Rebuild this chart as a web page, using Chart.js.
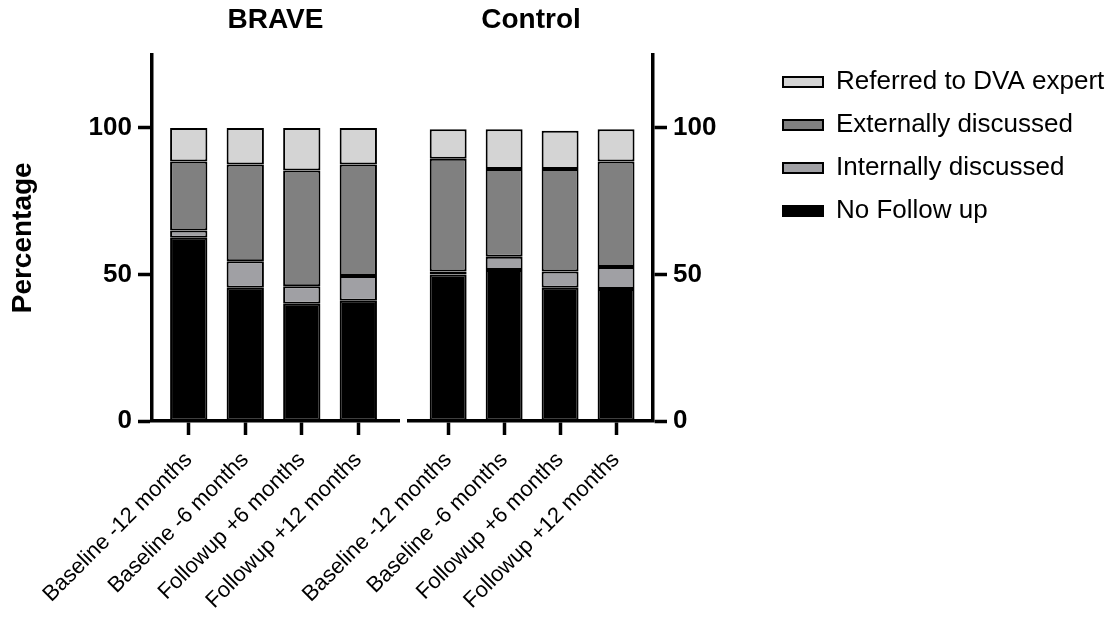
<!DOCTYPE html>
<html lang="en">
<head>
<meta charset="utf-8">
<title>BRAVE vs Control</title>
<script src="https://cdn.jsdelivr.net/npm/chart.js@4.4.1/dist/chart.umd.min.js"></script>
<style>
    html, body { margin: 0; padding: 0; background: #fff; }
    #contenedor { position: relative; width: 1117px; height: 619px; overflow: hidden; }
    #contenedor canvas { position: absolute; left: 0; top: 0; }
    #contenedor #graficoLeyenda { left: 766px; top: 52px; }
</style>
</head>
<body>
<div id="contenedor">
    <canvas id="graficoBrave" width="1117" height="619"></canvas>
    <canvas id="graficoControl" width="1117" height="619"></canvas>
    <canvas id="graficoLeyenda" width="351" height="500"></canvas>
</div>
<script>
// Datos (porcentajes)
const categorias = ['Baseline -12 months', 'Baseline -6 months', 'Followup +6 months', 'Followup +12 months'];
const series = ['No Follow up', 'Internally discussed', 'Externally discussed', 'Referred to DVA expert'];
const colores = ['#000000', '#a0a0a4', '#808080', '#d4d4d4'];
const ticksY = [0, 50, 100];

const braveSinSeguimiento = [62.5, 45.5, 40, 41];
const braveInterno = [2.5, 9, 6, 8.5];
const braveExterno = [23.5, 33, 39.5, 38];
const braveDerivado = [11.5, 12.5, 14.5, 12.5];

const controlSinSeguimiento = [50, 51.5, 45.5, 45];
const controlInterno = [1, 4.5, 5.5, 7.5];
const controlExterno = [38.5, 30, 35, 36];
const controlDerivado = [10, 13.5, 13, 11];

const fuente = 'Arial, "Liberation Sans", sans-serif';

// Función para armar los datasets apilados
function crearDatasets(valores) {
    return series.map((nombre, s) => ({
        label: nombre,
        data: valores ? valores[s].map((v, i) => ({ x: i, y: v })) : [],
        backgroundColor: colores[s],
        borderColor: '#000',
        borderWidth: 2,
        borderSkipped: false,
        categoryPercentage: 1,
        barPercentage: 0.66
    }));
}

// Función para crear cada panel
function crearGrafico(idCanvas, titulo, valores, config) {
    const ctx = document.getElementById(idCanvas).getContext('2d');

    return new Chart(ctx, {
        type: 'bar',
        data: { datasets: crearDatasets(valores) },
        options: {
            responsive: false,
            animation: false,
            layout: { padding: config.padding },
            plugins: {
                title: {
                    display: true,
                    text: titulo,
                    fullSize: false,
                    color: '#000',
                    font: { family: fuente, size: 28, weight: 'bold' },
                    padding: { top: 3, bottom: 18 }
                },
                legend: { display: false },
                tooltip: { enabled: false }
            },
            scales: {
                x: {
                    type: 'linear',
                    stacked: true,
                    offset: false,
                    min: config.xMin,
                    max: config.xMax,
                    afterBuildTicks: escala => { escala.ticks = categorias.map((c, i) => ({ value: i })); },
                    afterFit: escala => { escala.height = 198; },
                    grid: { offset: false, drawOnChartArea: false, drawTicks: true, tickLength: 14, tickWidth: 3.5, tickColor: '#000' },
                    border: { display: true, color: '#000', width: 3.5 },
                    ticks: {
                        autoSkip: false,
                        minRotation: 45,
                        maxRotation: 45,
                        padding: 12,
                        color: '#000',
                        font: { family: fuente, size: 22 },
                        callback: v => categorias[v]
                    }
                },
                y: {
                    position: config.ladoY,
                    stacked: true,
                    min: 0,
                    max: 125,
                    afterBuildTicks: escala => { escala.ticks = ticksY.map(v => ({ value: v })); },
                    afterFit: escala => { escala.width = config.anchoY; },
                    title: {
                        display: config.tituloY,
                        text: 'Percentage',
                        color: '#000',
                        padding: { top: 0, bottom: 0 },
                        font: { family: fuente, size: 28, weight: 'bold' }
                    },
                    grid: { drawOnChartArea: false, drawTicks: true, tickLength: 14, tickWidth: 3.5, tickColor: '#000' },
                    border: { display: true, color: '#000', width: 3.5 },
                    ticks: {
                        padding: 6,
                        color: '#000',
                        font: { family: fuente, size: 26, weight: 'bold' }
                    }
                }
            }
        }
    });
}

// Función para crear la leyenda (una fila por serie, en orden inverso)
function crearLeyenda(idCanvas) {
    const ctx = document.getElementById(idCanvas).getContext('2d');

    return new Chart(ctx, {
        type: 'bar',
        data: { datasets: crearDatasets(null) },
        options: {
            responsive: false,
            animation: false,
            layout: { padding: 0 },
            plugins: {
                legend: {
                    display: true,
                    position: 'top',
                    align: 'start',
                    reverse: true,
                    labels: {
                        boxWidth: 40,
                        boxHeight: 10,
                        padding: 17,
                        color: '#000',
                        font: { family: fuente, size: 26 }
                    }
                },
                tooltip: { enabled: false }
            },
            scales: {
                x: { display: false },
                y: { display: false }
            }
        }
    });
}

crearGrafico('graficoBrave', 'BRAVE',
    [braveSinSeguimiento, braveInterno, braveExterno, braveDerivado],
    { padding: { left: 6, right: 718, top: 0, bottom: 0 }, ladoY: 'left', anchoY: 146, tituloY: true, xMin: -0.65, xMax: 3.72 });

crearGrafico('graficoControl', 'Control',
    [controlSinSeguimiento, controlInterno, controlExterno, controlDerivado],
    { padding: { left: 409, right: 355, top: 0, bottom: 0 }, ladoY: 'right', anchoY: 109, tituloY: false, xMin: -0.7, xMax: 3.66 });

crearLeyenda('graficoLeyenda');
</script>
</body>
</html>
